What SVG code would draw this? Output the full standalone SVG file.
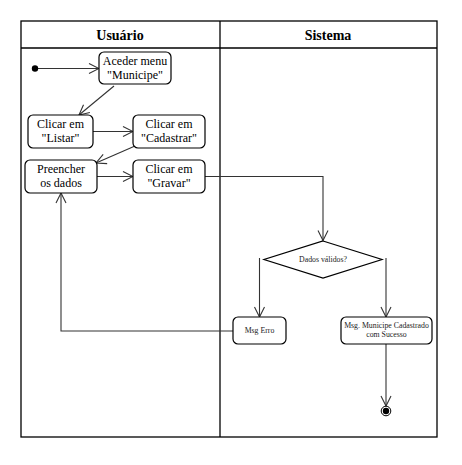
<svg xmlns="http://www.w3.org/2000/svg" width="462" height="465" viewBox="0 0 462 465">
  <style>
    .lane { fill: none; stroke: #000; stroke-width: 1.3; }
    .node { fill: #fff; stroke: #000; stroke-width: 1.2; }
    .lbl { font-family: "Liberation Serif", "Times New Roman", serif; font-size: 12px; fill: #000; text-anchor: middle; }
    .small { font-family: "Liberation Serif", "Times New Roman", serif; font-size: 7.8px; fill: #222; text-anchor: middle; }
    .head { font-family: "Liberation Serif", "Times New Roman", serif; font-size: 14px; font-weight: bold; fill: #000; text-anchor: middle; }
    .flow { fill: none; stroke: #333; stroke-width: 1.1; marker-end: url(#arrow); }
  </style>
  <defs>
    <marker id="arrow" viewBox="0 0 12 12" refX="11" refY="6" markerWidth="12" markerHeight="12" markerUnits="userSpaceOnUse" orient="auto">
      <path d="M1,1 L11,6 L1,11" fill="none" stroke="#333" stroke-width="1.1"/>
    </marker>
  </defs>
  <rect width="462" height="465" fill="#fff"/>

  <!-- swimlanes -->
  <g id="lanes">
    <rect class="lane" x="21" y="21" width="416" height="416"/>
    <line class="lane" x1="21" y1="48" x2="437" y2="48"/>
    <line class="lane" x1="220" y1="21" x2="220" y2="437"/>
    <text class="head" x="120" y="40">Usuário</text>
    <text class="head" x="328" y="40">Sistema</text>
  </g>

  <!-- connectors -->
  <g id="connectors">
    <line class="flow" x1="36" y1="68.5" x2="99" y2="68.5"/>
    <line class="flow" x1="114" y1="86" x2="79" y2="115"/>
    <line class="flow" x1="93" y1="131.5" x2="133" y2="131.5"/>
    <line class="flow" x1="135" y1="146" x2="96" y2="163"/>
    <line class="flow" x1="97" y1="176.5" x2="133" y2="176.5"/>
    <polyline class="flow" points="205,176.5 323,176.5 323,240.5"/>
    <line class="flow" x1="259.5" y1="258" x2="259.5" y2="317"/>
    <line class="flow" x1="386" y1="258" x2="386" y2="317"/>
    <polyline class="flow" points="233,331 61,331 61,193"/>
    <line class="flow" x1="386" y1="344" x2="386" y2="406"/>
  </g>

  <!-- nodes -->
  <g id="start">
    <circle cx="35" cy="68.5" r="3.2" fill="#000"/>
  </g>
  <g id="aceder-menu">
    <rect class="node" x="99" y="52" width="72" height="32" rx="5"/>
    <text class="lbl" x="135" y="65">Aceder menu</text>
    <text class="lbl" x="135" y="79">"Municipe"</text>
  </g>
  <g id="clicar-listar">
    <rect class="node" x="28" y="115" width="65" height="33" rx="5"/>
    <text class="lbl" x="60.5" y="128">Clicar em</text>
    <text class="lbl" x="60.5" y="142">"Listar"</text>
  </g>
  <g id="clicar-cadastrar">
    <rect class="node" x="133" y="115" width="72" height="33" rx="5"/>
    <text class="lbl" x="169" y="128">Clicar em</text>
    <text class="lbl" x="169" y="142">"Cadastrar"</text>
  </g>
  <g id="preencher">
    <rect class="node" x="25" y="160" width="72" height="33" rx="5"/>
    <text class="lbl" x="61" y="173">Preencher</text>
    <text class="lbl" x="61" y="187">os dados</text>
  </g>
  <g id="clicar-gravar">
    <rect class="node" x="133" y="160" width="72" height="33" rx="5"/>
    <text class="lbl" x="169" y="173">Clicar em</text>
    <text class="lbl" x="169" y="187">"Gravar"</text>
  </g>
  <g id="decisao">
    <polygon class="node" points="323,241 382,259.5 323,278 264,259.5"/>
    <text class="small" x="323" y="262">Dados válidos?</text>
  </g>
  <g id="msg-erro">
    <rect class="node" x="233" y="317" width="53" height="27" rx="5"/>
    <text class="small" x="259.5" y="332.5">Msg Erro</text>
  </g>
  <g id="msg-sucesso">
    <rect class="node" x="341" y="317" width="91" height="27" rx="5"/>
    <text class="small" x="386.5" y="327.5">Msg. Municipe Cadastrado</text>
    <text class="small" x="386.5" y="336.5">com Sucesso</text>
  </g>
  <g id="fim">
    <circle cx="386" cy="411" r="4.8" fill="#fff" stroke="#000" stroke-width="1"/>
    <circle cx="386" cy="411" r="3.2" fill="#000"/>
  </g>
</svg>
